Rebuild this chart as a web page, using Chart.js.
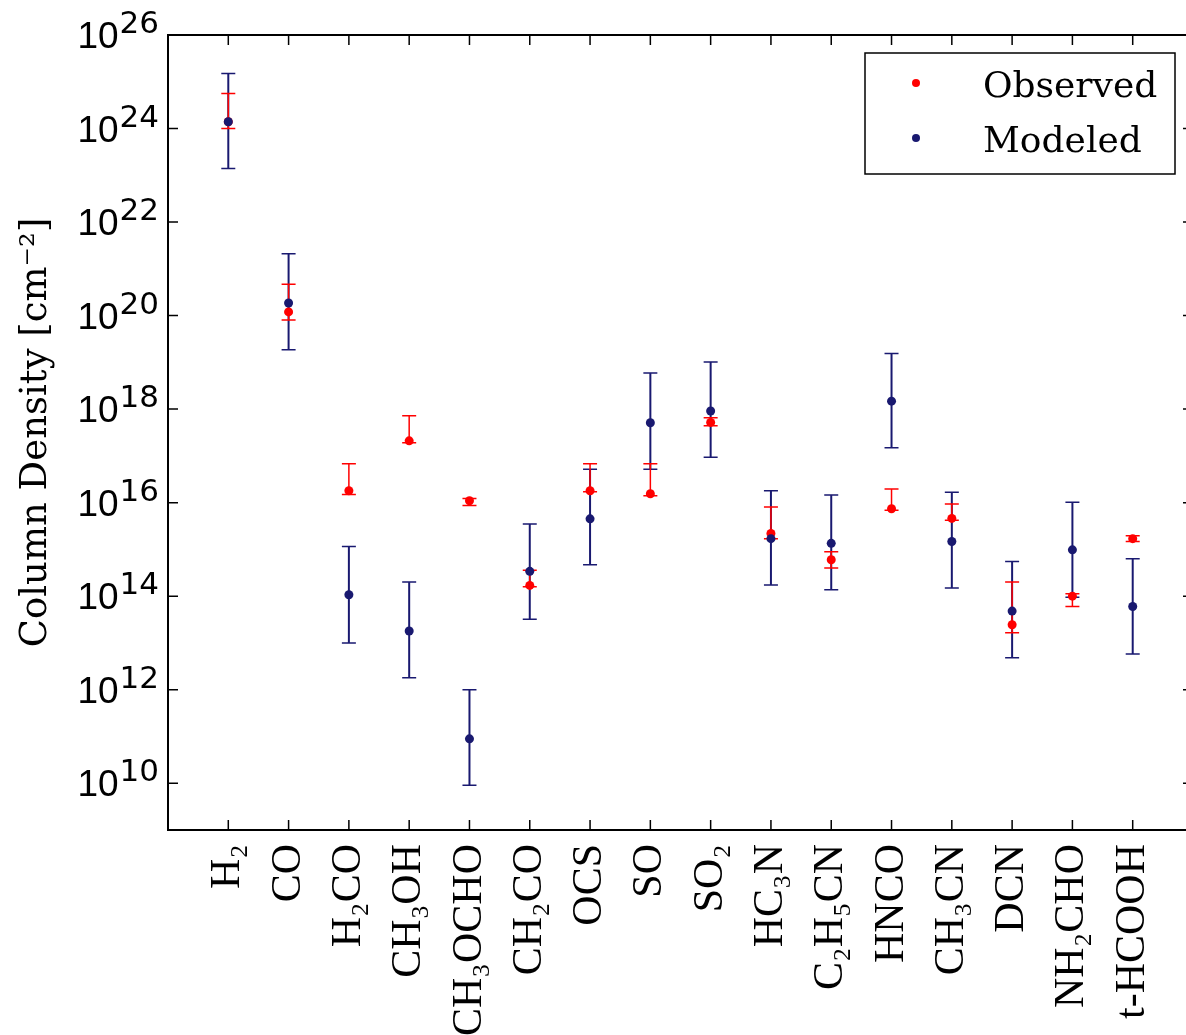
<!DOCTYPE html>
<html>
<head>
<meta charset="utf-8">
<script src="https://cdn.jsdelivr.net/npm/chart.js@4.4.1/dist/chart.umd.min.js"></script>
<style>
  html, body { margin: 0; padding: 0; background: #fff; overflow: hidden; }
  #wrap { width: 1200px; height: 1035px; }
</style>
</head>
<body>
<div id="wrap"><canvas id="grafica"></canvas></div>
<script>
const molecules = ['H₂', 'CO', 'H₂CO', 'CH₃OH', 'CH₃OCHO', 'CH₂CO', 'OCS', 'SO', 'SO₂',
    'HC₃N', 'C₂H₅CN', 'HNCO', 'CH₃CN', 'DCN', 'NH₂CHO', 't-HCOOH'];

// column densities [cm^-2]
const observed = [1.4e24, 1.2e20, 1.8e16, 2.1e17, 1.1e16, 1.7e14, 1.8e16, 1.55e16, 5.2e17,
    2.2e15, 6.0e14, 7.4e15, 4.6e15, 2.45e13, 1.0e14, 1.7e15];
const obsLow = [1.0e24, 8.0e19, 1.5e16, 1.9e17, 8.7e15, 1.6e14, 1.7e16, 1.4e16, 4.4e17,
    1.7e15, 4.0e14, 6.9e15, 4.2e15, 1.66e13, 6.0e13, 1.48e15];
const obsHigh = [5.6e24, 4.7e20, 6.8e16, 7.2e17, 1.23e16, 3.6e14, 6.8e16, 6.8e16, 6.5e17,
    8.1e15, 8.9e14, 1.95e16, 9.3e15, 2.0e14, 1.12e14, 1.95e15];

const modeled = [1.4e24, 1.86e20, 1.07e14, 1.8e13, 8.9e10, 3.4e14, 4.5e15, 5.1e17, 9.1e17,
    1.7e15, 1.35e15, 1.48e18, 1.48e15, 4.8e13, 9.8e14, 6.0e13];
const modLow = [1.4e23, 1.86e19, 1.0e13, 1.8e12, 9.1e9, 3.2e13, 4.7e14, 5.2e16, 9.3e16,
    1.74e14, 1.38e14, 1.5e17, 1.5e14, 4.8e12, 9.5e13, 5.8e12];
const modHigh = [1.5e25, 2.1e21, 1.15e15, 2.0e14, 1.0e12, 3.5e15, 5.2e16, 5.9e18, 1.02e19,
    1.8e16, 1.45e16, 1.55e19, 1.66e16, 5.5e14, 1.02e16, 6.3e14];

const exponents = [10, 12, 14, 16, 18, 20, 22, 24, 26];

const toPoints = vals => vals.map((v, i) => ({ x: i, y: v }));

// error bars drawn under the points, modeled first
const errorBars = {
    id: 'errorBars',
    beforeDatasetsDraw(chart) {
        const { ctx, chartArea: a, scales: { x, y } } = chart;
        ctx.save();
        ctx.beginPath();
        ctx.rect(a.left, a.top, a.right - a.left, a.bottom - a.top);
        ctx.clip();
        [1, 0].forEach(k => {
            const ds = chart.data.datasets[k];
            ctx.strokeStyle = ds.backgroundColor;
            ds.errLow.forEach((lo, i) => {
                const px = x.getPixelForValue(i);
                const y0 = y.getPixelForValue(lo);
                const y1 = y.getPixelForValue(ds.errHigh[i]);
                ctx.lineWidth = ds.errWidth;
                ctx.beginPath();
                ctx.moveTo(px, y0);
                ctx.lineTo(px, y1);
                ctx.stroke();
                ctx.lineWidth = 1.5;
                ctx.beginPath();
                ctx.moveTo(px - 7, y0); ctx.lineTo(px + 7, y0);
                ctx.moveTo(px - 7, y1); ctx.lineTo(px + 7, y1);
                ctx.stroke();
            });
        });
        ctx.restore();
    }
};

// box, inward ticks, 10^n labels and legend
const frame = {
    id: 'frame',
    afterDraw(chart) {
        const { ctx, chartArea: a, scales: { x, y } } = chart;
        ctx.save();
        ctx.strokeStyle = '#000';
        ctx.lineWidth = 1.5;
        ctx.beginPath();
        x.ticks.forEach(t => {
            const px = x.getPixelForValue(t.value);
            ctx.moveTo(px, a.bottom); ctx.lineTo(px, a.bottom - 10);
            ctx.moveTo(px, a.top); ctx.lineTo(px, a.top + 10);
        });
        y.ticks.forEach(t => {
            const py = y.getPixelForValue(t.value);
            ctx.moveTo(a.left, py); ctx.lineTo(a.left + 10, py);
            ctx.moveTo(a.right, py); ctx.lineTo(a.right - 10, py);
        });
        ctx.stroke();
        ctx.lineWidth = 2;
        ctx.strokeRect(a.left, a.top, a.right - a.left, a.bottom - a.top);

        ctx.fillStyle = '#000';
        ctx.textAlign = 'right';
        ctx.textBaseline = 'alphabetic';
        exponents.forEach(e => {
            const py = y.getPixelForValue(Math.pow(10, e));
            ctx.font = '31px "DejaVu Sans"';
            ctx.fillText(String(e), a.left - 9, py - 2);
            const w = ctx.measureText(String(e)).width;
            ctx.font = '37px "Liberation Sans"';
            ctx.fillText('10', a.left - 10 - w, py + 13);
        });

        const bx = a.right - 328, by = a.top + 18;
        ctx.fillStyle = '#fff';
        ctx.fillRect(bx, by, 310, 121);
        ctx.lineWidth = 1.5;
        ctx.strokeRect(bx, by, 310, 121);
        ctx.textAlign = 'left';
        ctx.font = '36px "DejaVu Serif"';
        chart.data.datasets.forEach((ds, i) => {
            const cy = by + 30 + i * 55;
            ctx.fillStyle = ds.backgroundColor;
            ctx.beginPath();
            ctx.arc(bx + 51, cy, 4, 0, 2 * Math.PI);
            ctx.fill();
            ctx.fillStyle = '#000';
            ctx.fillText(ds.label, bx + 118, cy + 14);
        });
        ctx.restore();
    }
};

const data = {
    datasets: [{
        label: 'Observed',
        data: toPoints(observed),
        errLow: obsLow,
        errHigh: obsHigh,
        errWidth: 1.5,
        backgroundColor: '#ff0000',
        pointRadius: 4.5,
        borderWidth: 0,
        order: 2
    }, {
        label: 'Modeled',
        data: toPoints(modeled),
        errLow: modLow,
        errHigh: modHigh,
        errWidth: 2,
        backgroundColor: '#191970',
        pointRadius: 4.5,
        borderWidth: 0,
        order: 1
    }]
};

const config = {
    type: 'scatter',
    data: data,
    plugins: [errorBars, frame],
    options: {
        responsive: true,
        maintainAspectRatio: false,
        animation: false,
        layout: { padding: { top: 35, right: 7, left: 0, bottom: 0 } },
        plugins: {
            legend: { display: false },
            tooltip: { enabled: false }
        },
        scales: {
            x: {
                type: 'linear',
                min: -1,
                max: 16,
                afterBuildTicks: s => { s.ticks = molecules.map((m, i) => ({ value: i })); },
                afterFit: s => { s.height = 205; },
                ticks: {
                    autoSkip: false,
                    minRotation: 90,
                    maxRotation: 90,
                    padding: 14,
                    color: '#000',
                    font: { family: 'Liberation Serif', size: 42 },
                    callback: v => molecules[v]
                },
                grid: { display: false, drawTicks: false },
                border: { display: false }
            },
            y: {
                type: 'logarithmic',
                min: 1e9,
                max: 1e26,
                afterBuildTicks: s => { s.ticks = exponents.map(e => ({ value: Math.pow(10, e) })); },
                afterFit: s => { s.width = 168; },
                ticks: { display: false },
                grid: { display: false, drawTicks: false },
                border: { display: false },
                title: {
                    display: true,
                    text: 'Column Density [cm⁻²]',
                    color: '#000',
                    font: { family: 'DejaVu Serif', size: 37 },
                    padding: { top: 14, bottom: 0 }
                }
            }
        }
    }
};

const ctx = document.getElementById('grafica');
const chart = new Chart(ctx, config);
</script>
</body>
</html>
